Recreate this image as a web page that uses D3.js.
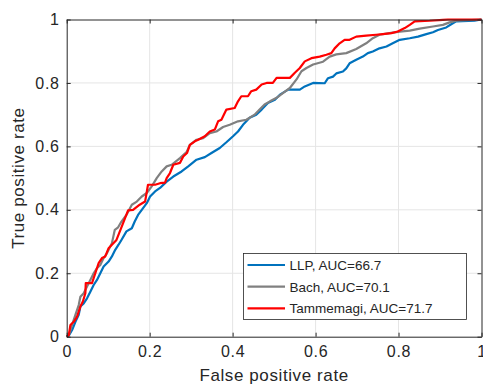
<!DOCTYPE html>
<html>
<head>
<meta charset="utf-8">
<script src="https://cdn.jsdelivr.net/npm/d3@7"></script>
<style>
  body { margin: 0; background: #fff; }
  svg { font-family: "Liberation Sans", Arial, sans-serif; }
</style>
</head>
<body>
<svg width="483" height="385"></svg>
<script>
// ROC curves as [fpr, tpr]
const llp = [[0,0],[0.005,0.003],[0.013,0.021],[0.021,0.047],[0.029,0.069],[0.033,0.095],[0.041,0.105],[0.049,0.121],[0.057,0.142],[0.065,0.163],[0.073,0.179],[0.081,0.2],[0.089,0.221],[0.101,0.237],[0.109,0.253],[0.117,0.274],[0.125,0.29],[0.132,0.305],[0.144,0.332],[0.157,0.342],[0.164,0.363],[0.172,0.384],[0.181,0.4],[0.193,0.421],[0.201,0.442],[0.213,0.458],[0.225,0.469],[0.241,0.489],[0.257,0.505],[0.277,0.521],[0.293,0.537],[0.313,0.558],[0.333,0.566],[0.349,0.579],[0.369,0.595],[0.385,0.613],[0.401,0.632],[0.413,0.647],[0.425,0.668],[0.441,0.69],[0.457,0.7],[0.47,0.716],[0.485,0.737],[0.502,0.747],[0.514,0.763],[0.534,0.779],[0.562,0.779],[0.574,0.789],[0.594,0.8],[0.622,0.799],[0.63,0.815],[0.642,0.82],[0.65,0.83],[0.666,0.836],[0.674,0.846],[0.682,0.862],[0.698,0.873],[0.714,0.883],[0.726,0.894],[0.738,0.899],[0.754,0.909],[0.771,0.915],[0.786,0.925],[0.803,0.936],[0.827,0.941],[0.847,0.946],[0.867,0.954],[0.883,0.96],[0.895,0.967],[0.915,0.975],[0.927,0.985],[0.939,0.994],[0.983,0.996],[1,1]];
const bach = [[0,0],[0.005,0.005],[0.013,0.037],[0.021,0.069],[0.029,0.1],[0.033,0.126],[0.041,0.137],[0.049,0.158],[0.057,0.179],[0.065,0.2],[0.073,0.216],[0.081,0.226],[0.089,0.248],[0.097,0.263],[0.109,0.295],[0.116,0.337],[0.124,0.345],[0.132,0.363],[0.144,0.384],[0.157,0.416],[0.169,0.426],[0.181,0.442],[0.193,0.453],[0.205,0.474],[0.217,0.5],[0.229,0.521],[0.241,0.537],[0.253,0.542],[0.273,0.563],[0.289,0.582],[0.297,0.605],[0.313,0.621],[0.329,0.626],[0.345,0.642],[0.361,0.647],[0.377,0.661],[0.393,0.668],[0.413,0.679],[0.433,0.684],[0.453,0.7],[0.465,0.716],[0.477,0.732],[0.49,0.742],[0.506,0.753],[0.522,0.769],[0.538,0.784],[0.554,0.811],[0.566,0.837],[0.578,0.847],[0.594,0.858],[0.618,0.867],[0.634,0.883],[0.65,0.89],[0.674,0.894],[0.698,0.907],[0.722,0.925],[0.738,0.941],[0.754,0.952],[0.778,0.957],[0.803,0.962],[0.827,0.965],[0.851,0.971],[0.883,0.978],[0.907,0.983],[0.923,0.991],[0.939,0.996],[1,1]];
const tammemagi = [[0,0],[0.005,0.005],[0.009,0.037],[0.017,0.047],[0.025,0.063],[0.033,0.095],[0.039,0.111],[0.045,0.137],[0.046,0.169],[0.061,0.169],[0.069,0.2],[0.077,0.232],[0.085,0.248],[0.093,0.253],[0.101,0.279],[0.109,0.29],[0.12,0.305],[0.136,0.358],[0.148,0.398],[0.16,0.4],[0.176,0.416],[0.189,0.426],[0.196,0.479],[0.213,0.479],[0.225,0.484],[0.237,0.486],[0.241,0.5],[0.249,0.516],[0.257,0.542],[0.273,0.548],[0.281,0.568],[0.29,0.579],[0.297,0.605],[0.309,0.616],[0.317,0.621],[0.333,0.632],[0.345,0.647],[0.357,0.653],[0.365,0.679],[0.373,0.684],[0.385,0.716],[0.405,0.721],[0.413,0.742],[0.421,0.758],[0.437,0.758],[0.445,0.774],[0.457,0.779],[0.47,0.795],[0.482,0.8],[0.497,0.8],[0.506,0.816],[0.538,0.816],[0.55,0.832],[0.562,0.847],[0.574,0.868],[0.59,0.878],[0.61,0.883],[0.626,0.889],[0.638,0.894],[0.646,0.909],[0.658,0.925],[0.67,0.936],[0.682,0.936],[0.698,0.946],[0.722,0.949],[0.746,0.952],[0.762,0.954],[0.783,0.957],[0.798,0.962],[0.815,0.973],[0.827,0.983],[0.839,0.994],[0.875,0.996],[0.907,0.999],[0.919,1],[1,1]];

const seriesNames = ["LLP, AUC=66.7", "Bach, AUC=70.1", "Tammemagi, AUC=71.7"];
const seriesColors = ["#0072bd", "#808080", "#ff0000"];
const xTicks = [0, 0.2, 0.4, 0.6, 0.8, 1];
const yTicks = [0, 0.2, 0.4, 0.6, 0.8, 1];

const svg = d3.select("svg");
const margin = { left: 66.7, right: 1, top: 19.5, bottom: 48.3 };
const width = 483, height = 385;

const x = d3.scaleLinear().domain([0, 1]).range([margin.left, width - margin.right - 0.5]);
const y = d3.scaleLinear().domain([0, 1]).range([height - margin.bottom, margin.top]);

const axisColor = "#262626";

// grid
const grid = svg.append("g");
grid.selectAll(".gx").data(xTicks.slice(1, -1)).enter().append("line")
  .attr("x1", d => x(d)).attr("x2", d => x(d))
  .attr("y1", y(0)).attr("y2", y(1))
  .attr("stroke", "#e5e5e5").attr("stroke-width", 1);
grid.selectAll(".gy").data(yTicks.slice(1, -1)).enter().append("line")
  .attr("y1", d => y(d)).attr("y2", d => y(d))
  .attr("x1", x(0)).attr("x2", x(1))
  .attr("stroke", "#e5e5e5").attr("stroke-width", 1);

// curves
const line = d3.line().x(d => x(d[0])).y(d => y(d[1]));
const curves = [llp, bach, tammemagi];
svg.append("g").selectAll("path").data(curves).enter().append("path")
  .attr("d", line)
  .attr("fill", "none")
  .attr("stroke", (d, i) => seriesColors[i])
  .attr("stroke-width", 2.2)
  .attr("stroke-linejoin", "round");

// axes with inner ticks, box on all sides
const fmt = d => d === 0 || d === 1 ? String(d) : d3.format(".1f")(d);
function styleAxis(g) {
  g.select(".domain").attr("stroke", axisColor);
  g.selectAll(".tick line").attr("stroke", axisColor);
  g.selectAll("text").attr("fill", axisColor)
    .style("font-size", "16px").style("letter-spacing", "0.7px");
}
svg.append("g").attr("transform", `translate(0,${y(0)})`)
  .call(d3.axisBottom(x).tickValues(xTicks).tickFormat(fmt).tickSizeInner(-4).tickSizeOuter(0).tickPadding(9))
  .call(styleAxis);
svg.append("g").attr("transform", `translate(${x(0)},0)`)
  .call(d3.axisLeft(y).tickValues(yTicks).tickFormat(fmt).tickSizeInner(-4).tickSizeOuter(0).tickPadding(7))
  .call(styleAxis);
svg.append("g").attr("transform", `translate(0,${y(1)})`)
  .call(d3.axisTop(x).tickValues(xTicks).tickFormat("").tickSizeInner(-4).tickSizeOuter(0))
  .call(styleAxis);
svg.append("g").attr("transform", `translate(${x(1)},0)`)
  .call(d3.axisRight(y).tickValues(yTicks).tickFormat("").tickSizeInner(-4).tickSizeOuter(0))
  .call(styleAxis);

// axis labels
svg.append("text")
  .attr("x", (x(0) + x(1)) / 2).attr("y", 381)
  .attr("text-anchor", "middle").attr("fill", axisColor)
  .style("font-size", "17px").style("letter-spacing", "0.6px").text("False positive rate");
svg.append("text")
  .attr("transform", `translate(24,${(y(0) + y(1)) / 2}) rotate(-90)`)
  .attr("text-anchor", "middle").attr("fill", axisColor)
  .style("font-size", "17px").style("letter-spacing", "0.6px").text("True positive rate");

// legend
const lg = svg.append("g").attr("transform", "translate(243.5,253.5)");
lg.append("rect").attr("width", 223).attr("height", 66)
  .attr("fill", "#fff").attr("stroke", "#262626").attr("stroke-width", 0.8);
seriesNames.forEach((name, i) => {
  const ry = 11.5 + i * 21.7;
  lg.append("line").attr("x1", 4).attr("x2", 41.5).attr("y1", ry).attr("y2", ry)
    .attr("stroke", seriesColors[i]).attr("stroke-width", 2.2);
  lg.append("text").attr("x", 46).attr("y", ry + 4.8)
    .attr("fill", axisColor).style("font-size", "13.5px").text(name);
});
</script>
</body>
</html>
